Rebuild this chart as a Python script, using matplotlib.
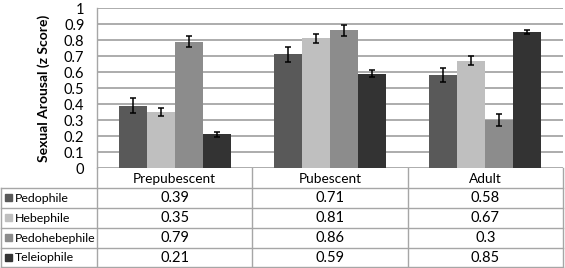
import numpy as np
import matplotlib
matplotlib.use("Agg")
import matplotlib.pyplot as plt
from matplotlib.patches import Rectangle

plt.rcParams['font.family'] = ['Lato', 'DejaVu Sans']

categories = ["Prepubescent", "Pubescent", "Adult"]
series_names = ["Pedophile", "Hebephile", "Pedohebephile", "Teleiophile"]
pedophile = [0.39, 0.71, 0.58]
hebephile = [0.35, 0.81, 0.67]
pedohebephile = [0.79, 0.86, 0.30]
teleiophile = [0.21, 0.59, 0.85]
err_pedophile = [0.045, 0.045, 0.045]
err_hebephile = [0.025, 0.027, 0.027]
err_pedohebephile = [0.035, 0.036, 0.036]
err_teleiophile = [0.015, 0.02, 0.015]
y_ticks = [0, 0.1, 0.2, 0.3, 0.4, 0.5, 0.6, 0.7, 0.8, 0.9, 1]
y_label = "Sexual Arousal (z Score)"

series = [pedophile, hebephile, pedohebephile, teleiophile]
errors = [err_pedophile, err_hebephile, err_pedohebephile, err_teleiophile]
colors = ["#595959", "#bfbfbf", "#8c8c8c", "#333333"]

W, H = 565, 268
fig = plt.figure(figsize=(W / 100, H / 100), dpi=100)
fig.patch.set_facecolor("white")

# plot area in pixels
px0, px1, py0, py1 = 97, 563, 8, 168
ax = fig.add_axes([px0 / W, 1 - py1 / H, (px1 - px0) / W, (py1 - py0) / H])
x = np.arange(len(categories))
bw = 0.18
for i, (vals, errs, c) in enumerate(zip(series, errors, colors)):
    ax.bar(x + (i - 1.5) * bw, vals, bw, color=c, zorder=3,
           yerr=errs, error_kw=dict(ecolor="black", elinewidth=1.1, capsize=2.5, capthick=1.1, zorder=4))
ax.set_xlim(-0.5, len(categories) - 0.5)
ax.set_ylim(0, 1)
ax.set_yticks(y_ticks)
ax.set_yticklabels([f"{v:g}" for v in y_ticks], fontsize=10.5)
ax.tick_params(axis="y", length=0, pad=9)
ax.set_xticks([])
ax.yaxis.grid(True, color="#a6a6a6", linewidth=1.3, zorder=0)
for s in ["top", "right", "bottom"]:
    ax.spines[s].set_visible(False)
ax.spines["left"].set_color("#a6a6a6")
ax.spines["left"].set_linewidth(1.0)
ax.set_ylabel(y_label, fontsize=10, fontweight="bold", labelpad=10)

# data table overlay in pixel coordinates
tax = fig.add_axes([0, 0, 1, 1], zorder=-1)
tax.set_xlim(0, W)
tax.set_ylim(H, 0)
tax.axis("off")
lc = "#a6a6a6"
col_edges = [px0 + (px1 - px0) * k / len(categories) for k in range(len(categories) + 1)]
row_h = 20
hdr_top, hdr_bot = py1, py1 + 19.5
row_edges = [hdr_bot + row_h * k for k in range(len(series_names) + 1)]
row_edges[-1] = min(row_edges[-1], H - 1)
# vertical lines
for cx in col_edges:
    tax.plot([cx, cx], [hdr_top, row_edges[-1]], color=lc, lw=1)
tax.plot([1, 1], [hdr_bot, row_edges[-1]], color=lc, lw=1)
# horizontal lines
for ry in row_edges:
    tax.plot([1, px1], [ry, ry], color=lc, lw=1)
# header text
for k, cat in enumerate(categories):
    tax.text((col_edges[k] + col_edges[k + 1]) / 2, (hdr_top + hdr_bot) / 2 + 1, cat,
             ha="center", va="center", fontsize=9.8)
# rows
for r, (name, vals, c) in enumerate(zip(series_names, series, colors)):
    yc = (row_edges[r] + row_edges[r + 1]) / 2
    tax.add_patch(Rectangle((4.5, yc - 3.5), 7, 7, color=c))
    tax.text(15, yc + 0.5, name, ha="left", va="center", fontsize=8.9)
    for k, v in enumerate(vals):
        tax.text((col_edges[k] + col_edges[k + 1]) / 2, yc + 0.5, f"{v:g}",
                 ha="center", va="center", fontsize=10.5)

fig.savefig("out.png", dpi=100)
